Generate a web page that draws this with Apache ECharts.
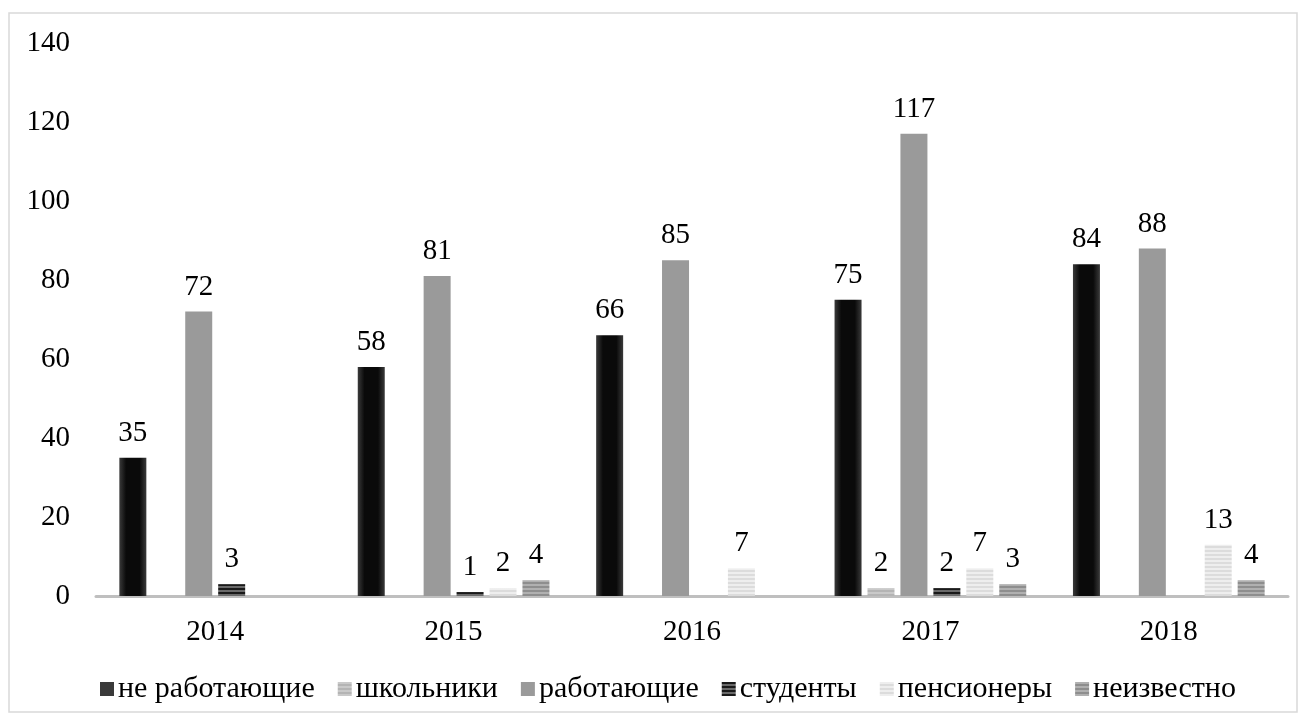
<!DOCTYPE html>
<html>
<head>
<meta charset="utf-8">
<script src="https://cdn.jsdelivr.net/npm/echarts@6/dist/echarts.min.js"></script>
<style>
  html, body { margin: 0; padding: 0; background: #fff; }
  #chart { width: 1306px; height: 720px; }
</style>
</head>
<body>
<div id="chart"></div>
<script>
const years = ['2014', '2015', '2016', '2017', '2018']
const notWorking = [35, 58, 66, 75, 84]
const pupils = [0, 0, 0, 2, 0]
const working = [72, 81, 85, 117, 88]
const students = [3, 1, 0, 2, 0]
const pensioners = [0, 2, 7, 7, 13]
const unknown = [0, 4, 0, 3, 4]
const yTicks = [0, 20, 40, 60, 80, 100, 120, 140]

// horizontal stripes, like the Excel fill patterns
function stripes (c1, c2) {
  const cv = document.createElement('canvas')
  cv.width = 8
  cv.height = 4
  const ctx = cv.getContext('2d')
  ctx.fillStyle = c1
  ctx.fillRect(0, 0, 8, 4)
  ctx.fillStyle = c2
  ctx.fillRect(0, 2, 8, 2)
  return { image: cv, repeat: 'repeat' }
}

const font = "'Liberation Serif', 'Times New Roman', serif"
const fs = 29

function hideZero (p) {
  return p.value ? String(p.value) : ''
}

function makeSeries (name, data, color) {
  return {
    name: name,
    type: 'bar',
    data: data,
    barWidth: 27,
    barGap: '22%',
    itemStyle: { color: color },
    label: {
      show: true,
      position: 'top',
      distance: 10,
      color: '#000',
      fontFamily: font,
      fontSize: fs,
      formatter: hideZero
    }
  }
}

const blackGrad = {
  type: 'linear', x: 0, y: 0, x2: 1, y2: 0,
  colorStops: [
    { offset: 0, color: '#3a3a3a' },
    { offset: 0.25, color: '#0a0a0a' },
    { offset: 0.75, color: '#0a0a0a' },
    { offset: 1, color: '#3a3a3a' }
  ]
}

const series = [
  makeSeries('не работающие', notWorking, blackGrad),
  makeSeries('школьники', pupils, stripes('#c9c9c9', '#b4b4b4')),
  makeSeries('работающие', working, '#9a9a9a'),
  makeSeries('студенты', students, stripes('#1a1a1a', '#6a6a6a')),
  makeSeries('пенсионеры', pensioners, stripes('#eeeeee', '#dcdcdc')),
  makeSeries('неизвестно', unknown, stripes('#b0b0b0', '#8e8e8e'))
]

const legendColors = [
  '#3a3a3a',
  stripes('#c9c9c9', '#b4b4b4'),
  '#9a9a9a',
  stripes('#1a1a1a', '#6a6a6a'),
  stripes('#eeeeee', '#dcdcdc'),
  stripes('#b0b0b0', '#8e8e8e')
]

const chart = echarts.init(document.getElementById('chart'))
chart.setOption({
  animation: false,
  backgroundColor: '#fff',
  textStyle: { fontFamily: font },
  graphic: [{
    type: 'rect',
    shape: { x: 9, y: 13, width: 1288, height: 699 },
    style: { fill: 'none', stroke: '#d9d9d9', lineWidth: 1.5 },
    silent: true
  }],
  grid: { left: 96, right: 18, top: 43, bottom: 124 },
  legend: {
    bottom: 11,
    left: 95,
    itemWidth: 14,
    itemHeight: 14,
    itemGap: 23,
    icon: 'rect',
    textStyle: { fontFamily: font, fontSize: 30, color: '#000', padding: [0, 0, 0, -1] },
    data: series.map((s, i) => ({ name: s.name, itemStyle: { color: legendColors[i] } }))
  },
  xAxis: {
    type: 'category',
    data: years,
    axisLine: { lineStyle: { color: '#bfbfbf', width: 3 } },
    axisTick: { show: false },
    axisLabel: { fontFamily: font, fontSize: fs, color: '#000', margin: 22 }
  },
  yAxis: {
    type: 'value',
    min: yTicks[0],
    max: yTicks[yTicks.length - 1],
    interval: 20,
    splitLine: { show: false },
    axisLine: { show: false },
    axisTick: { show: false },
    axisLabel: { fontFamily: font, fontSize: fs, color: '#000', margin: 26 }
  },
  series: series
})
</script>
</body>
</html>
